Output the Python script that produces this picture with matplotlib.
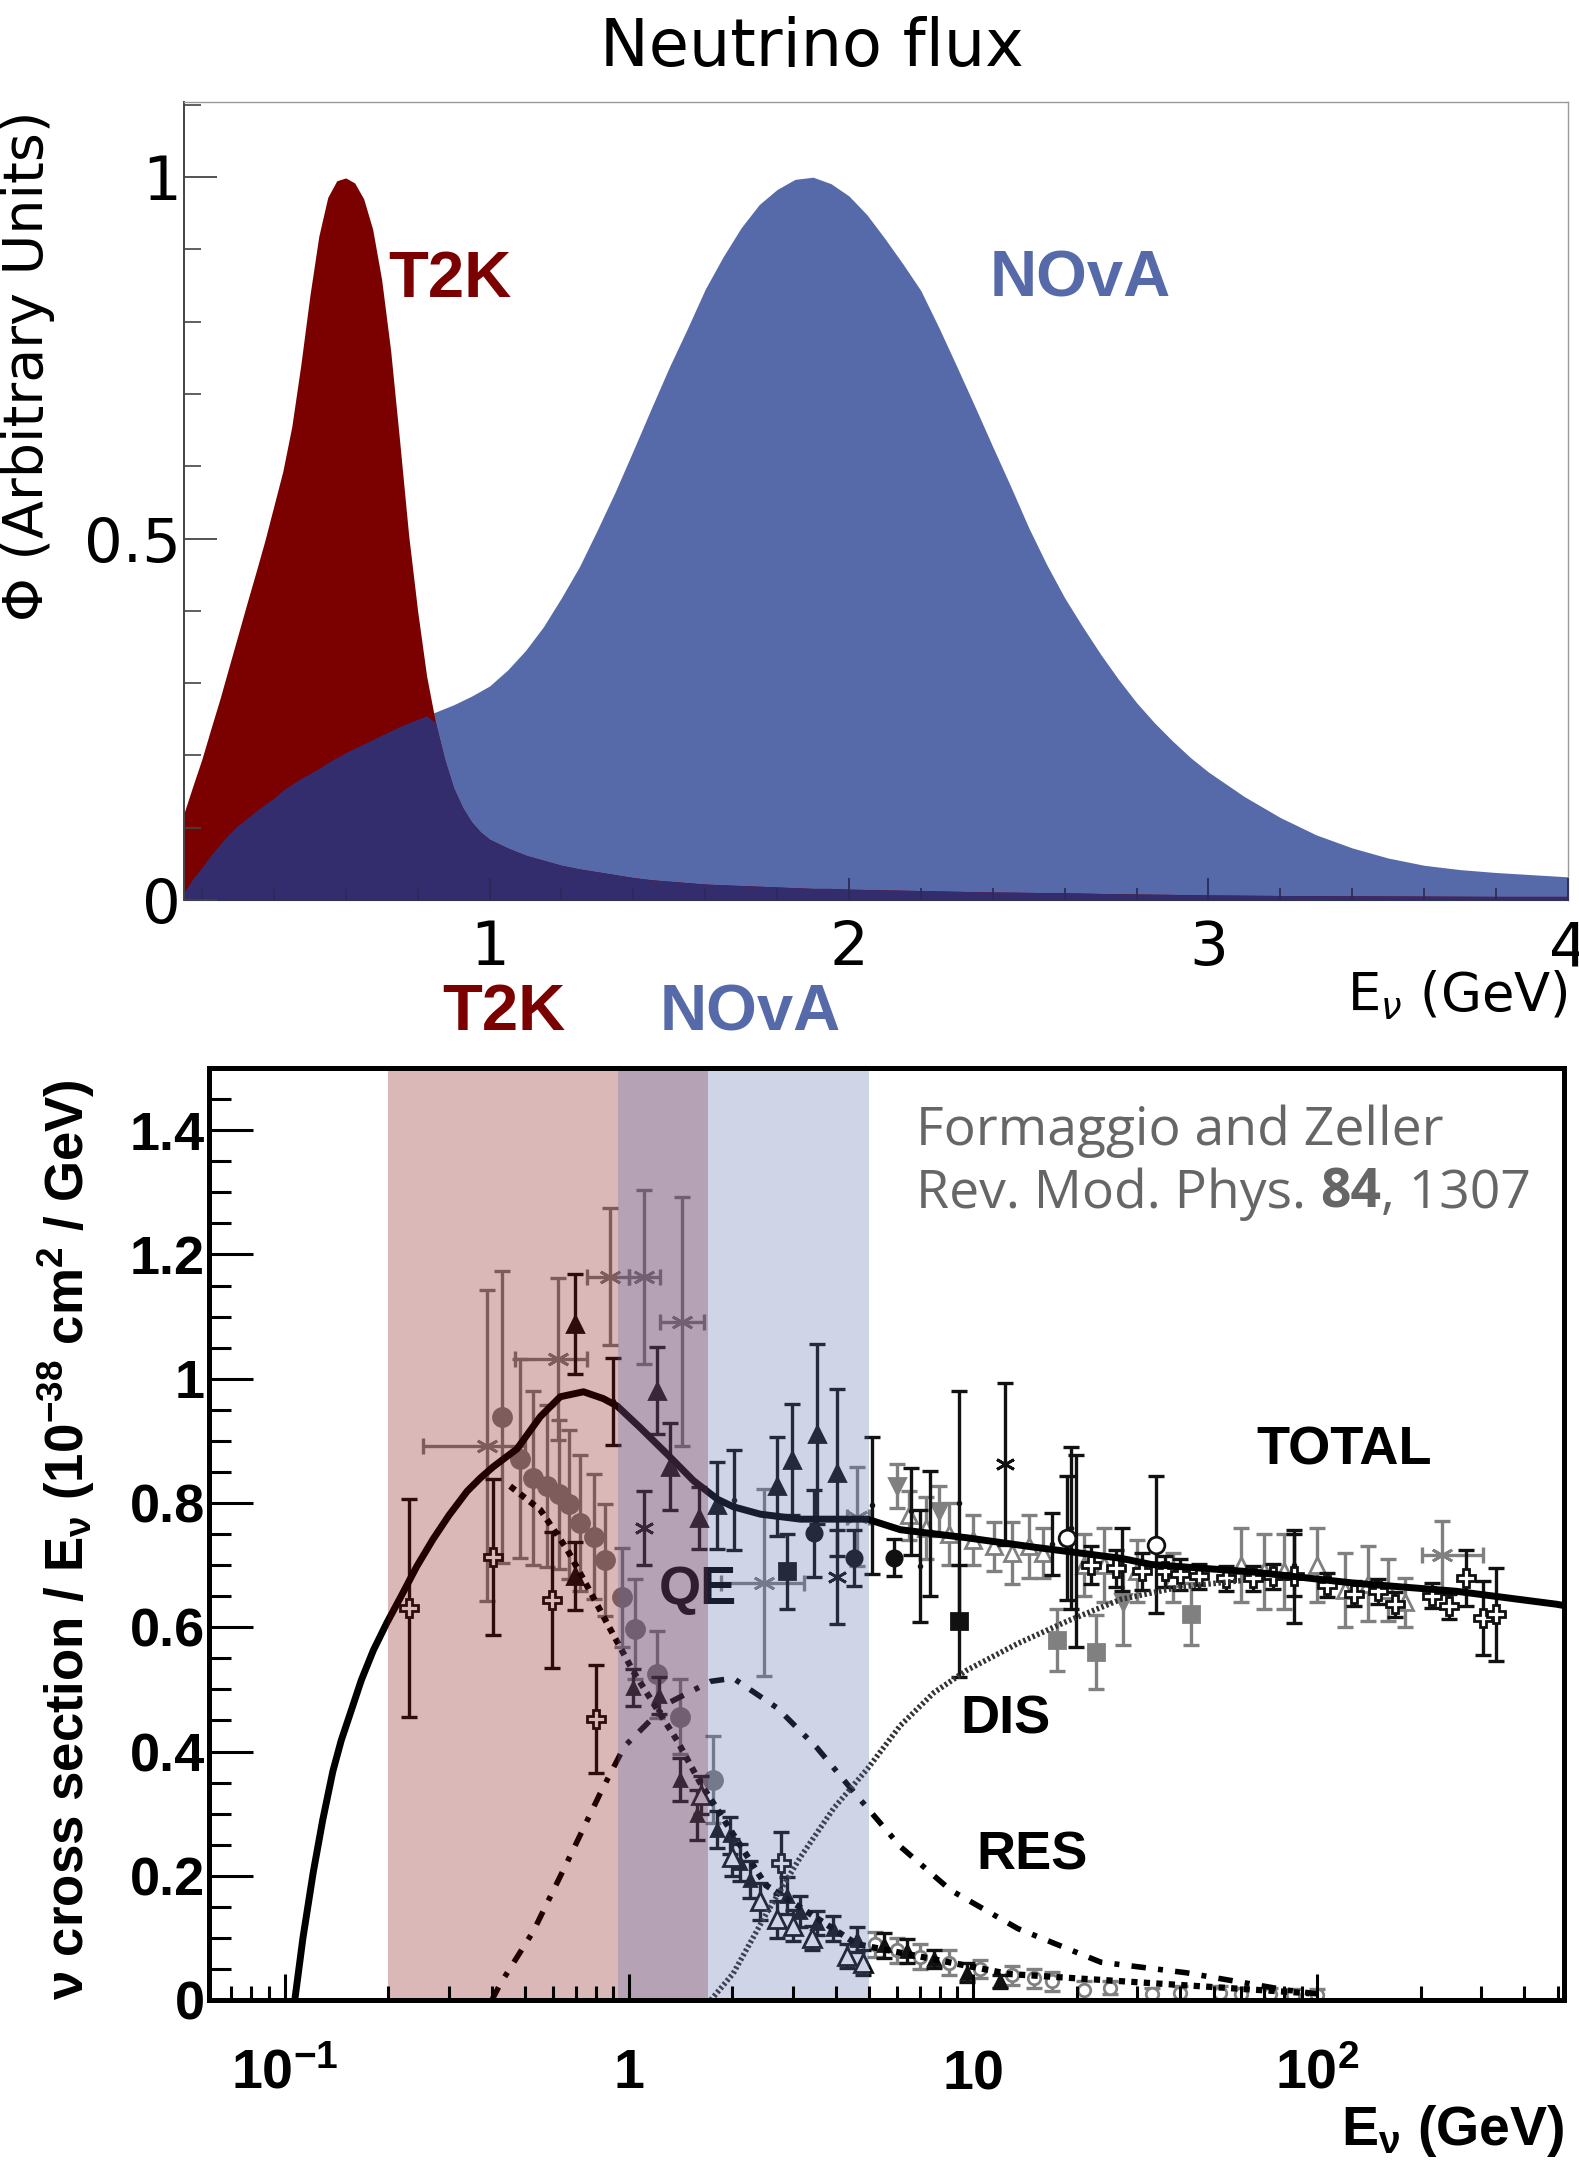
#!/usr/bin/env python3
# neutrino flux (T2K / NOvA) on top of the nu-N cross-section compilation

import numpy as np
import matplotlib
matplotlib.use('Agg')
import matplotlib.pyplot as plt
from matplotlib.ticker import MultipleLocator, LogLocator, NullFormatter, FuncFormatter

plt.rcParams['mathtext.fontset'] = 'custom'
for k in ('rm', 'it', 'bf', 'sf'):
    plt.rcParams['mathtext.' + k] = 'Liberation Sans:bold'

# ---------------- top panel: flux on a common energy grid (GeV)
flux_e = [0.15, 0.175, 0.2, 0.225, 0.25, 0.275, 0.3, 0.325, 0.35, 0.375, 0.4, 0.425, 0.45,
          0.475, 0.5, 0.525, 0.55, 0.575, 0.6, 0.625, 0.65, 0.675, 0.7, 0.725, 0.75, 0.775,
          0.8, 0.825, 0.85, 0.875, 0.9, 0.925, 0.95, 0.975, 1.0,
          1.05, 1.1, 1.15, 1.2, 1.25, 1.3, 1.35, 1.4, 1.45, 1.5, 1.55, 1.6, 1.65, 1.7, 1.75,
          1.8, 1.85, 1.9, 1.95, 2.0, 2.05, 2.1, 2.15, 2.2, 2.25, 2.3, 2.35, 2.4, 2.45, 2.5,
          2.55, 2.6, 2.65, 2.7, 2.75, 2.8, 2.85, 2.9, 2.95, 3.0,
          3.1, 3.2, 3.3, 3.4, 3.5, 3.6, 3.7, 3.8, 3.9, 4.0]
flux_t2k = [0.12, 0.158, 0.195, 0.237, 0.278, 0.322, 0.366, 0.41, 0.453, 0.497, 0.545, 0.593,
            0.655, 0.74, 0.835, 0.918, 0.972, 0.995, 0.999, 0.992, 0.97, 0.928, 0.858, 0.76,
            0.635, 0.505, 0.40, 0.31, 0.245, 0.195, 0.155, 0.128, 0.108, 0.094, 0.084,
            0.072, 0.062, 0.055, 0.048, 0.043, 0.039, 0.035, 0.031, 0.028, 0.026, 0.024, 0.022,
            0.021, 0.02, 0.019, 0.018, 0.017, 0.016, 0.016, 0.015, 0.0145, 0.014, 0.0135,
            0.013, 0.0125, 0.012, 0.0115, 0.011, 0.0108, 0.0105, 0.0102, 0.01, 0.0095, 0.009,
            0.0087, 0.0083, 0.008, 0.0077, 0.0073, 0.007,
            0.0066, 0.0062, 0.006, 0.0058, 0.0056, 0.0054, 0.0052, 0.005, 0.005, 0.005]
flux_nova = [0.01, 0.03, 0.045, 0.062, 0.077, 0.091, 0.103, 0.113, 0.123, 0.132, 0.141, 0.152,
             0.16, 0.168, 0.175, 0.182, 0.19, 0.197, 0.204, 0.21, 0.216, 0.222, 0.228, 0.234,
             0.24, 0.245, 0.25, 0.255, 0.26, 0.265, 0.27, 0.276, 0.282, 0.289, 0.296,
             0.318, 0.345, 0.378, 0.418, 0.461, 0.512, 0.565, 0.622, 0.68, 0.737, 0.79, 0.845,
             0.89, 0.93, 0.962, 0.983, 0.997, 1.0, 0.991, 0.974, 0.948, 0.915, 0.88, 0.843,
             0.792, 0.738, 0.683, 0.627, 0.572, 0.515, 0.464, 0.418, 0.378, 0.34, 0.305, 0.273,
             0.245, 0.22, 0.197, 0.177,
             0.143, 0.114, 0.09, 0.072, 0.058, 0.048, 0.042, 0.038, 0.035, 0.032]

# ---------------- bottom panel: model curves
tot_e = [0.107, 0.113, 0.121, 0.129, 0.138, 0.146, 0.155, 0.167, 0.181, 0.198, 0.217, 0.242,
         0.27, 0.30, 0.339, 0.37, 0.403, 0.473, 0.553, 0.632, 0.738, 0.843, 0.925, 1.08, 1.29,
         1.54, 1.81, 2.01, 2.41, 3.15, 4.93, 6.15, 9.6, 15, 26.9, 33, 65, 128, 253, 497, 520]
tot_y = [0.0, 0.1, 0.205, 0.29, 0.368, 0.418, 0.461, 0.515, 0.563, 0.607, 0.648, 0.698,
         0.742, 0.78, 0.819, 0.84, 0.858, 0.887, 0.939, 0.971, 0.979, 0.968, 0.956, 0.921,
         0.879, 0.836, 0.806, 0.794, 0.782, 0.774, 0.774, 0.757, 0.744, 0.729, 0.711, 0.701,
         0.689, 0.671, 0.658, 0.637, 0.635]
qe_e = [0.452, 0.553, 0.662, 0.757, 0.883, 1.03, 1.18, 1.38, 1.61, 2.5, 4.6, 12.7, 95]
qe_y = [0.827, 0.789, 0.725, 0.666, 0.597, 0.529, 0.477, 0.418, 0.350, 0.185, 0.09, 0.042,
        0.011]
res_e = [0.40, 0.423, 0.528, 0.662, 0.826, 0.97, 1.29, 1.73, 2.01, 2.70, 3.52, 4.5, 6.15,
         8.6, 13.5, 23.5, 41.6, 81.7, 100]
res_y = [0.0, 0.026, 0.111, 0.222, 0.333, 0.408, 0.477, 0.513, 0.518, 0.47, 0.406, 0.335,
         0.247, 0.177, 0.115, 0.061, 0.044, 0.016, 0.01]
dis_e = [1.73, 2.01, 2.52, 3.15, 3.94, 4.93, 6.15, 7.7, 9.6, 13.5, 18.8, 26.9, 40, 60]
dis_y = [0.0, 0.043, 0.141, 0.23, 0.309, 0.372, 0.442, 0.495, 0.531, 0.574, 0.61, 0.645,
         0.665, 0.675]

# energy windows of the two beams
t2k_band = [0.2, 1.7]
nova_band = [0.93, 5.0]

# ---------------- bottom panel: data points (E, value, error)
btri_e = [0.699, 0.699, 1.21, 1.32, 1.60, 1.80, 2.70, 2.98, 3.53, 4.03]
btri_y = [1.088, 0.682, 0.981, 0.858, 0.776, 0.796, 0.827, 0.87, 0.911, 0.849]
btri_err = [0.08, 0.055, 0.07, 0.07, 0.05, 0.07, 0.08, 0.09, 0.145, 0.135]

gstar_e = [0.387, 0.624, 0.884, 1.104, 1.43, 2.47, 4.6, 230]
gstar_y = [0.892, 1.032, 1.164, 1.164, 1.092, 0.672, 0.778, 0.716]
gstar_err = [0.25, 0.13, 0.11, 0.14, 0.2, 0.15, 0.08, 0.055]
gstar_lo = [0.253, 0.468, 0.757, 1.0, 1.23, 1.85, 4.3, 201]
gstar_hi = [0.5, 0.757, 1.0, 1.23, 1.65, 3.22, 5.0, 303]

gcirc_e = [0.428, 0.484, 0.528, 0.578, 0.625, 0.668, 0.723, 0.79, 0.855, 0.955, 1.04, 1.21,
           1.41, 1.76]
gcirc_y = [0.939, 0.871, 0.84, 0.827, 0.814, 0.798, 0.768, 0.746, 0.708, 0.648, 0.597, 0.524,
           0.456, 0.355]
gcirc_err = [0.235, 0.16, 0.14, 0.13, 0.12, 0.12, 0.11, 0.1, 0.09, 0.08, 0.08, 0.07, 0.06, 0.07]

ocross_e = [0.229, 0.403, 0.598, 0.80, 2.76, 22, 26, 31, 36, 40, 45.4, 54.3, 65.1, 74.6, 85.5,
            107, 128, 150, 168, 215, 241, 270, 303, 330]
ocross_y = [0.631, 0.713, 0.644, 0.452, 0.221, 0.70, 0.695, 0.69, 0.69, 0.685, 0.682, 0.679,
            0.679, 0.682, 0.682, 0.668, 0.654, 0.658, 0.637, 0.651, 0.634, 0.679, 0.615, 0.621]
ocross_err = [0.175, 0.125, 0.11, 0.087, 0.05, 0.03, 0.03, 0.03, 0.025, 0.025, 0.02, 0.02, 0.02,
              0.02, 0.075, 0.02, 0.02, 0.02, 0.02, 0.02, 0.02, 0.045, 0.06, 0.075]

bcirc_e = [3.44, 4.5, 5.89]
bcirc_y = [0.751, 0.712, 0.712]
bcirc_err = [0.07, 0.045, 0.03]

bsq_e = [2.88, 9.1]
bsq_y = [0.69, 0.61]
bsq_err = [0.06, 0.09]

gsq_e = [17.5, 22.8, 42.9]
gsq_y = [0.58, 0.56, 0.621]
gsq_err = [0.05, 0.06, 0.05]

gdtri_e = [6.02, 7.95, 27.3]
gdtri_y = [0.827, 0.787, 0.641]
gdtri_err = [0.035, 0.04, 0.07]

bstar_e = [1.104, 4.03, 12.4]
bstar_y = [0.76, 0.681, 0.863]
bstar_err = [0.06, 0.075, 0.13]

bbar_e = [0.90, 2.02, 5.09, 6.58, 7.03, 7.52, 9.1, 17.0, 19.2, 19.9, 27.0, 85.5]
bbar_y = [0.964, 0.805, 0.796, 0.787, 0.698, 0.751, 0.80, 0.734, 0.76, 0.723, 0.709, 0.70]
bbar_err = [0.07, 0.08, 0.11, 0.07, 0.09, 0.10, 0.18, 0.05, 0.13, 0.155, 0.05, 0.05]

bocirc_e = [18.8, 34.1]
bocirc_y = [0.744, 0.733]
bocirc_err = [0.1, 0.11]

gotri_e = [6.5, 7.3, 8.5, 10, 11.5, 13, 14.5, 16, 21, 24, 30, 38, 60, 70, 80, 100, 120, 140,
           160, 180]
gotri_y = [0.78, 0.76, 0.75, 0.74, 0.73, 0.72, 0.73, 0.72, 0.70, 0.70, 0.69, 0.68, 0.70, 0.69,
           0.69, 0.70, 0.66, 0.67, 0.66, 0.64]
gotri_err = [0.04, 0.05, 0.05, 0.04, 0.04, 0.05, 0.05, 0.04, 0.05, 0.06, 0.05, 0.04, 0.06,
             0.06, 0.06, 0.06, 0.06, 0.06, 0.05, 0.04]

# quasi-elastic measurements
qtri_e = [1.03, 1.22, 1.41, 1.58, 1.80, 1.97, 2.11, 2.25, 2.88, 3.15, 3.53, 3.93, 4.6, 5.5,
          6.42, 7.7, 9.6, 12.0]
qtri_y = [0.503, 0.49, 0.355, 0.298, 0.274, 0.265, 0.221, 0.194, 0.168, 0.142, 0.124, 0.115,
          0.097, 0.088, 0.079, 0.066, 0.044, 0.03]
qtri_err = [0.03, 0.03, 0.035, 0.04, 0.03, 0.03, 0.03, 0.03, 0.03, 0.025, 0.02, 0.02, 0.02,
            0.02, 0.02, 0.015, 0.015, 0.01]
qotri_e = [1.62, 2.0, 2.41, 2.7, 3.0, 3.4, 4.31, 4.8]
qotri_y = [0.33, 0.23, 0.159, 0.13, 0.12, 0.10, 0.071, 0.06]
qotri_err = [0.03, 0.03, 0.03, 0.03, 0.025, 0.02, 0.02, 0.02]
qgry_e = [5.2, 6.0, 7.0, 8.5, 10.5, 13, 15, 17, 21, 25, 33, 40, 52, 60, 73, 85, 100]
qgry_y = [0.09, 0.08, 0.07, 0.06, 0.05, 0.04, 0.035, 0.03, 0.016, 0.02, 0.01, 0.012, 0.012,
          0.01, 0.01, 0.008, 0.008]
qgry_err = [0.02, 0.02, 0.02, 0.02, 0.015, 0.015, 0.015, 0.015, 0.015, 0.01, 0.01, 0.01, 0.01,
            0.01, 0.01, 0.01, 0.01]

T2K_C = '#7b0000'
NOVA_C = '#566aaa'
OVER_C = '#332c6d'
GRAY = '#808080'
BLK = '#111111'


def draw_points(ax, e, y, err, marker, color, mfc=None, ms=12, lo=None, hi=None):
    e = np.asarray(e)
    xerr = None
    if lo is not None:
        xerr = [e - np.asarray(lo), np.asarray(hi) - e]
    ax.errorbar(e, y, yerr=err, xerr=xerr, fmt='none', ecolor=color, elinewidth=2.4,
                capsize=6, capthick=2.4, zorder=3)
    ax.plot(e, y, ls='none', marker=marker, ms=ms, color=color,
            mfc=color if mfc is None else mfc, mec=color, mew=2, zorder=3)


fig = plt.figure(figsize=(15.79, 21.66), dpi=100)

# ================= top panel
ax1 = fig.add_axes([0.1165, 0.5845, 0.8765, 0.3684])
e = np.array(flux_e)
t2k = np.array(flux_t2k)
nova = np.array(flux_nova)
ax1.fill_between(e, 0, nova, color=NOVA_C, lw=0)
ax1.fill_between(e, 0, t2k, color=T2K_C, lw=0)
ax1.fill_between(e, 0, np.minimum(t2k, nova), color=OVER_C, lw=0)
ax1.set_xlim(0.15, 4.0)
ax1.set_ylim(0, 1.104)
ax1.set_axisbelow(False)
ax1.xaxis.set_major_locator(MultipleLocator(1))
ax1.xaxis.set_minor_locator(MultipleLocator(0.2))
ax1.yaxis.set_major_locator(MultipleLocator(0.5))
ax1.yaxis.set_minor_locator(MultipleLocator(0.1))
fmt = FuncFormatter(lambda v, p: '%g' % v)
ax1.xaxis.set_major_formatter(fmt)
ax1.yaxis.set_major_formatter(fmt)
ax1.tick_params(axis='y', which='major', direction='in', length=24, width=1.3, color='#444444',
                labelsize=44, pad=2)
ax1.tick_params(axis='y', which='minor', direction='in', length=12, width=1.2, color='#444444')
ax1.tick_params(axis='x', which='major', direction='in', length=16, width=1.3, color='#2a2a55',
                labelsize=44, pad=14)
ax1.tick_params(axis='x', which='minor', direction='in', length=9, width=1.2, color='#2a2a55')
for s in ('top', 'right'):
    ax1.spines[s].set_color('#999999')
    ax1.spines[s].set_linewidth(1.0)
ax1.spines['left'].set_color('#444444')
ax1.spines['left'].set_linewidth(1.4)
ax1.spines['bottom'].set_color('#333355')
ax1.set_ylabel('Φ (Arbitrary Units)', fontsize=40)
ax1.yaxis.set_label_coords(-0.093, 0.669)
ax1.text(1.0, -0.14, r'E$_{\nu}$ (GeV)', transform=ax1.transAxes, ha='right', va='baseline',
         fontsize=38, math_fontfamily='dejavusans')
ax1.text(0.89, 0.858, 'T2K', color=T2K_C, fontsize=47, fontweight='bold',
         family='Liberation Sans', ha='center', va='center')
ax1.text(2.643, 0.858, 'NOvA', color=NOVA_C, fontsize=47, fontweight='bold',
         family='Liberation Sans', ha='center', va='center')
fig.text(0.514, 0.978, 'Neutrino flux', fontsize=47, ha='center', va='center')

# labels between the panels
fig.text(0.319, 0.5323, 'T2K', color=T2K_C, fontsize=47, fontweight='bold',
         family='Liberation Sans', ha='center', va='center')
fig.text(0.475, 0.5323, 'NOvA', color=NOVA_C, fontsize=47, fontweight='bold',
         family='Liberation Sans', ha='center', va='center')

# ================= bottom panel
ax2 = fig.add_axes([0.1324, 0.0766, 0.8581, 0.4303])
ax2.set_xscale('log')
ax2.set_xlim(0.0603, 521)
ax2.set_ylim(0, 1.5)

draw_points(ax2, gotri_e, gotri_y, gotri_err, '^', GRAY, mfc='white', ms=11)
draw_points(ax2, qgry_e, qgry_y, qgry_err, 'o', GRAY, mfc='white', ms=9)
draw_points(ax2, gcirc_e, gcirc_y, gcirc_err, 'o', GRAY, ms=13)
draw_points(ax2, gstar_e, gstar_y, gstar_err, (6, 2, 0), GRAY, ms=16, lo=gstar_lo, hi=gstar_hi)
draw_points(ax2, gsq_e, gsq_y, gsq_err, 's', GRAY, ms=12)
draw_points(ax2, gdtri_e, gdtri_y, gdtri_err, 'v', GRAY, ms=12)
draw_points(ax2, bbar_e, bbar_y, bbar_err, '.', BLK, ms=4)
draw_points(ax2, btri_e, btri_y, btri_err, '^', BLK, ms=11)
draw_points(ax2, bstar_e, bstar_y, bstar_err, (6, 2, 0), BLK, ms=14)
draw_points(ax2, bcirc_e, bcirc_y, bcirc_err, 'o', BLK, ms=11)
draw_points(ax2, bsq_e, bsq_y, bsq_err, 's', BLK, ms=11)
draw_points(ax2, bocirc_e, bocirc_y, bocirc_err, 'o', BLK, mfc='white', ms=12)
draw_points(ax2, ocross_e, ocross_y, ocross_err, 'P', BLK, mfc='white', ms=13)
draw_points(ax2, qtri_e, qtri_y, qtri_err, '^', BLK, ms=9)
draw_points(ax2, qotri_e, qotri_y, qotri_err, '^', BLK, mfc='white', ms=13)

ax2.plot(tot_e, tot_y, color='black', lw=5, solid_capstyle='butt', solid_joinstyle='round',
         zorder=4)
ax2.plot(qe_e, qe_y, color='black', lw=4.5, ls=(0, (1.0, 1.0)), zorder=4)
ax2.plot(res_e, res_y, color='black', lw=4, ls=(0, (2.6, 2.2, 0.9, 2.2)), zorder=4)
ax2.plot(dis_e, dis_y, color='#333333', lw=4, ls=(0, (0.45, 0.45)), zorder=4)

ax2.axvspan(t2k_band[0], t2k_band[1], color=T2K_C, alpha=0.28, lw=0, zorder=5)
ax2.axvspan(nova_band[0], nova_band[1], color=NOVA_C, alpha=0.28, lw=0, zorder=5)

ax2.text(120, 0.884, 'TOTAL', fontsize=39, fontweight='bold', family='Liberation Sans',
         ha='center', va='center', zorder=6)
ax2.text(1.59, 0.66, 'QE', fontsize=39, fontweight='bold', family='Liberation Sans',
         ha='center', va='center', zorder=4.5)
ax2.text(12.4, 0.451, 'DIS', fontsize=39, fontweight='bold', family='Liberation Sans',
         ha='center', va='center', zorder=6)
ax2.text(14.8, 0.232, 'RES', fontsize=39, fontweight='bold', family='Liberation Sans',
         ha='center', va='center', zorder=6)

ax2.xaxis.set_major_locator(LogLocator(base=10))
ax2.xaxis.set_minor_locator(LogLocator(base=10, subs=np.arange(2, 10)))
ax2.xaxis.set_major_formatter(NullFormatter())
ax2.xaxis.set_minor_formatter(NullFormatter())
ax2.yaxis.set_major_locator(MultipleLocator(0.2))
ax2.yaxis.set_minor_locator(MultipleLocator(0.05))
ax2.yaxis.set_major_formatter(fmt)
ax2.tick_params(axis='y', which='major', direction='in', length=32, width=2.2, labelsize=39,
                pad=3)
ax2.tick_params(axis='y', which='minor', direction='in', length=16, width=2.2)
ax2.tick_params(axis='x', which='major', direction='in', length=19, width=2.2)
ax2.tick_params(axis='x', which='minor', direction='in', length=10, width=2.2)
for lbl in ax2.get_yticklabels():
    lbl.set_fontweight('bold')
    lbl.set_family('Liberation Sans')
for s in ax2.spines.values():
    s.set_linewidth(3.6)
    s.set_zorder(10)
ax2.xaxis.set_zorder(10)
ax2.yaxis.set_zorder(10)

xtick_vals = [0.1, 1, 10, 100]
xtick_txt = [r'$10^{-1}$', r'$1$', r'$10$', r'$10^{2}$']
for v, t in zip(xtick_vals, xtick_txt):
    ax2.text(v, -0.0944, t, transform=ax2.get_xaxis_transform(), ha='center', va='baseline',
             fontsize=40)
ax2.text(1.0, -0.156, r'E$_{\nu}$ (GeV)', transform=ax2.transAxes, ha='right', va='baseline',
         fontsize=40, fontweight='bold', family='Liberation Sans')
ax2.set_ylabel(r'$\nu$ cross section / E$_{\nu}$ (10$^{-38}$ cm$^{2}$ / GeV)', fontsize=38,
               fontweight='bold', family='Liberation Sans')
ax2.yaxis.set_label_coords(-0.0827, 0.494)

# reference note, with the volume number in bold
ref_font = dict(family='Open Sans', fontsize=38.5, color='#666666', va='baseline',
                transform=ax2.transAxes)
ax2.text(0.5218, 0.917, 'Formaggio and Zeller', **ref_font)
fig.canvas.draw()
rnd = fig.canvas.get_renderer()
x0 = 0.5218
for piece, wt in (('Rev. Mod. Phys. ', 'normal'), ('84', 'bold'), (', 1307', 'normal')):
    t = ax2.text(x0, 0.85, piece, fontweight=wt, **ref_font)
    bb = t.get_window_extent(renderer=rnd)
    x0 = ax2.transAxes.inverted().transform((bb.x1, bb.y0))[0]

fig.savefig('out.png', dpi=100)
